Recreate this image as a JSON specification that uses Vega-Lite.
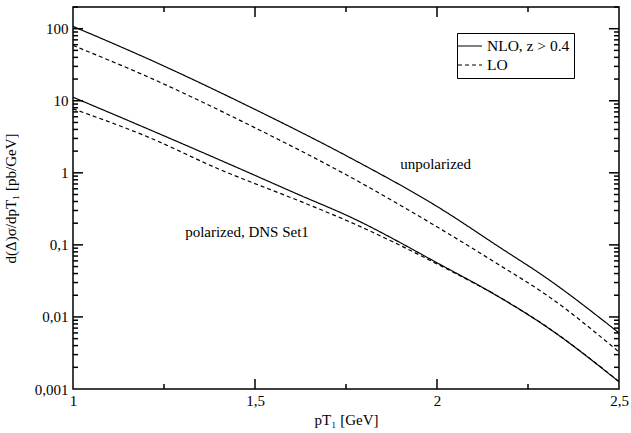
{
  "$schema": "https://vega.github.io/schema/vega-lite/v6.json",
  "width": 546,
  "height": 382,
  "autosize": "none",
  "padding": {"left": 73, "top": 7, "right": 12, "bottom": 44},
  "background": "white",
  "datasets": {
    "curves": [
      {"pT": 1.0, "v": 107.7, "curve": "uNLO", "set": "unpolarized", "order": "NLO, z > 0.4"},
      {"pT": 1.21, "v": 37.4, "curve": "uNLO", "set": "unpolarized", "order": "NLO, z > 0.4"},
      {"pT": 1.495, "v": 7.80, "curve": "uNLO", "set": "unpolarized", "order": "NLO, z > 0.4"},
      {"pT": 1.76, "v": 1.63, "curve": "uNLO", "set": "unpolarized", "order": "NLO, z > 0.4"},
      {"pT": 2.01, "v": 0.318, "curve": "uNLO", "set": "unpolarized", "order": "NLO, z > 0.4"},
      {"pT": 2.17, "v": 0.094, "curve": "uNLO", "set": "unpolarized", "order": "NLO, z > 0.4"},
      {"pT": 2.30, "v": 0.0349, "curve": "uNLO", "set": "unpolarized", "order": "NLO, z > 0.4"},
      {"pT": 2.5, "v": 0.0060, "curve": "uNLO", "set": "unpolarized", "order": "NLO, z > 0.4"},
      {"pT": 1.0, "v": 58.6, "curve": "uLO", "set": "unpolarized", "order": "LO"},
      {"pT": 1.21, "v": 21.0, "curve": "uLO", "set": "unpolarized", "order": "LO"},
      {"pT": 1.495, "v": 4.34, "curve": "uLO", "set": "unpolarized", "order": "LO"},
      {"pT": 1.76, "v": 0.885, "curve": "uLO", "set": "unpolarized", "order": "LO"},
      {"pT": 2.01, "v": 0.166, "curve": "uLO", "set": "unpolarized", "order": "LO"},
      {"pT": 2.17, "v": 0.053, "curve": "uLO", "set": "unpolarized", "order": "LO"},
      {"pT": 2.30, "v": 0.0203, "curve": "uLO", "set": "unpolarized", "order": "LO"},
      {"pT": 2.5, "v": 0.00327, "curve": "uLO", "set": "unpolarized", "order": "LO"},
      {"pT": 1.0, "v": 11.2, "curve": "pNLO", "set": "polarized", "order": "NLO, z > 0.4"},
      {"pT": 1.21, "v": 3.98, "curve": "pNLO", "set": "polarized", "order": "NLO, z > 0.4"},
      {"pT": 1.46, "v": 1.13, "curve": "pNLO", "set": "polarized", "order": "NLO, z > 0.4"},
      {"pT": 1.62, "v": 0.498, "curve": "pNLO", "set": "polarized", "order": "NLO, z > 0.4"},
      {"pT": 1.76, "v": 0.246, "curve": "pNLO", "set": "polarized", "order": "NLO, z > 0.4"},
      {"pT": 2.01, "v": 0.053, "curve": "pNLO", "set": "polarized", "order": "NLO, z > 0.4"},
      {"pT": 2.17, "v": 0.019, "curve": "pNLO", "set": "polarized", "order": "NLO, z > 0.4"},
      {"pT": 2.30, "v": 0.00735, "curve": "pNLO", "set": "polarized", "order": "NLO, z > 0.4"},
      {"pT": 2.5, "v": 0.00126, "curve": "pNLO", "set": "polarized", "order": "NLO, z > 0.4"},
      {"pT": 1.0, "v": 7.73, "curve": "pLO", "set": "polarized", "order": "LO"},
      {"pT": 1.21, "v": 3.08, "curve": "pLO", "set": "polarized", "order": "LO"},
      {"pT": 1.40, "v": 1.13, "curve": "pLO", "set": "polarized", "order": "LO"},
      {"pT": 1.62, "v": 0.41, "curve": "pLO", "set": "polarized", "order": "LO"},
      {"pT": 1.76, "v": 0.209, "curve": "pLO", "set": "polarized", "order": "LO"},
      {"pT": 2.01, "v": 0.0513, "curve": "pLO", "set": "polarized", "order": "LO"},
      {"pT": 2.17, "v": 0.0190, "curve": "pLO", "set": "polarized", "order": "LO"},
      {"pT": 2.30, "v": 0.0074, "curve": "pLO", "set": "polarized", "order": "LO"},
      {"pT": 2.5, "v": 0.00127, "curve": "pLO", "set": "polarized", "order": "LO"}
    ],
    "notes": [
      {"pT": 1.996, "v": 1.34, "label": "unpolarized"},
      {"pT": 1.478, "v": 0.152, "label": "polarized, DNS Set1"}
    ],
    "xticks": [
      {"tx": 1.25, "kind": "minor"}, {"tx": 1.5, "kind": "major"}, {"tx": 1.75, "kind": "minor"},
      {"tx": 2, "kind": "major"}, {"tx": 2.25, "kind": "minor"}
    ],
    "yticks": [
      {"ty": 0.002, "kind": "minor"}, {"ty": 0.003, "kind": "minor"}, {"ty": 0.004, "kind": "minor"}, {"ty": 0.005, "kind": "minor"}, {"ty": 0.006, "kind": "minor"}, {"ty": 0.007, "kind": "minor"}, {"ty": 0.008, "kind": "minor"}, {"ty": 0.009, "kind": "minor"},
      {"ty": 0.01, "kind": "major"},
      {"ty": 0.02, "kind": "minor"}, {"ty": 0.03, "kind": "minor"}, {"ty": 0.04, "kind": "minor"}, {"ty": 0.05, "kind": "minor"}, {"ty": 0.06, "kind": "minor"}, {"ty": 0.07, "kind": "minor"}, {"ty": 0.08, "kind": "minor"}, {"ty": 0.09, "kind": "minor"},
      {"ty": 0.1, "kind": "major"},
      {"ty": 0.2, "kind": "minor"}, {"ty": 0.3, "kind": "minor"}, {"ty": 0.4, "kind": "minor"}, {"ty": 0.5, "kind": "minor"}, {"ty": 0.6, "kind": "minor"}, {"ty": 0.7, "kind": "minor"}, {"ty": 0.8, "kind": "minor"}, {"ty": 0.9, "kind": "minor"},
      {"ty": 1, "kind": "major"},
      {"ty": 2, "kind": "minor"}, {"ty": 3, "kind": "minor"}, {"ty": 4, "kind": "minor"}, {"ty": 5, "kind": "minor"}, {"ty": 6, "kind": "minor"}, {"ty": 7, "kind": "minor"}, {"ty": 8, "kind": "minor"}, {"ty": 9, "kind": "minor"},
      {"ty": 10, "kind": "major"},
      {"ty": 20, "kind": "minor"}, {"ty": 30, "kind": "minor"}, {"ty": 40, "kind": "minor"}, {"ty": 50, "kind": "minor"}, {"ty": 60, "kind": "minor"}, {"ty": 70, "kind": "minor"}, {"ty": 80, "kind": "minor"}, {"ty": 90, "kind": "minor"},
      {"ty": 100, "kind": "major"},
      {"ty": 200, "kind": "minor"}
    ]
  },
  "config": {
    "font": "Liberation Serif",
    "view": {"stroke": "black", "strokeWidth": 1.5},
    "axis": {"labelFont": "Liberation Serif", "titleFont": "Liberation Serif", "labelFontSize": 15, "titleFontSize": 15, "titleFontWeight": "normal", "labelColor": "black", "titleColor": "black", "grid": false, "domain": false, "ticks": false},
    "legend": {"labelFont": "Liberation Serif"},
    "text": {"font": "Liberation Serif"}
  },
  "resolve": {"axis": {"x": "independent", "y": "independent"}},
  "layer": [
    {
      "data": {"name": "curves"},
      "transform": [{"filter": "datum.set == 'unpolarized'"}],
      "mark": {"type": "line", "interpolate": "monotone", "color": "black", "strokeWidth": 1.2, "clip": true},
      "encoding": {
        "x": {"field": "pT", "type": "quantitative",
          "scale": {"domain": [1, 2.5], "nice": false, "zero": false},
          "axis": {"orient": "bottom", "title": "pT₁ [GeV]", "titlePadding": 4,
            "values": [1, 1.5, 2, 2.5], "labelPadding": 4, "labelFlush": false,
            "labelExpr": "replace(format(datum.value, '~g'), '.', ',')"}},
        "y": {"field": "v", "type": "quantitative",
          "scale": {"type": "log", "domain": [0.001, 200], "nice": false},
          "axis": {"orient": "left", "title": "d(Δ)σ/dpT₁ [pb/GeV]", "titlePadding": 16,
            "values": [0.001, 0.01, 0.1, 1, 10, 100], "labelPadding": 5, "labelFlush": false,
            "labelExpr": "replace(format(datum.value, '~g'), '.', ',')"}},
        "detail": {"field": "curve"},
        "strokeDash": {"field": "order", "type": "nominal",
          "scale": {"domain": ["NLO, z > 0.4", "LO"], "range": [[1, 0], [4, 3]]},
          "legend": {"title": null, "orient": "none", "legendX": 384, "legendY": 26,
            "symbolType": "M-1.5,0H1.5", "symbolSize": 256, "symbolStrokeColor": "black", "symbolStrokeWidth": 1.2,
            "labelFont": "Liberation Serif", "labelFontSize": 15.5, "labelColor": "black",
            "strokeColor": "black", "fillColor": "white", "padding": 4, "rowPadding": 1, "labelOffset": 8, "offset": 0}}
      }
    },
    {
      "data": {"name": "curves"},
      "transform": [{"filter": "datum.set == 'polarized'"}],
      "mark": {"type": "line", "interpolate": "monotone", "color": "black", "strokeWidth": 1.2, "clip": true},
      "encoding": {
        "x": {"field": "pT", "type": "quantitative", "axis": null},
        "y": {"field": "v", "type": "quantitative", "axis": null},
        "detail": {"field": "curve"},
        "strokeDash": {"field": "order", "type": "nominal"}
      }
    },
    {
      "data": {"name": "notes"},
      "mark": {"type": "text", "font": "Liberation Serif", "fontSize": 15, "color": "black"},
      "encoding": {
        "x": {"field": "pT", "type": "quantitative", "axis": null},
        "y": {"field": "v", "type": "quantitative", "axis": null},
        "text": {"field": "label"}
      }
    },
    {
      "data": {"name": "xticks"},
      "transform": [{"filter": "datum.kind == 'major'"}],
      "mark": {"type": "rule", "color": "black", "strokeWidth": 1.5, "opacity": 1, "y2Offset": -10},
      "encoding": {
        "x": {"field": "tx", "type": "quantitative", "axis": null},
        "y": {"datum": 0.001, "type": "quantitative", "axis": null},
        "y2": {"datum": 0.001}
      }
    },
    {
      "data": {"name": "xticks"},
      "transform": [{"filter": "datum.kind == 'minor'"}],
      "mark": {"type": "rule", "color": "black", "strokeWidth": 1.5, "opacity": 1, "y2Offset": -5},
      "encoding": {
        "x": {"field": "tx", "type": "quantitative", "axis": null},
        "y": {"datum": 0.001, "type": "quantitative", "axis": null},
        "y2": {"datum": 0.001}
      }
    },
    {
      "data": {"name": "xticks"},
      "transform": [{"filter": "datum.kind == 'major'"}],
      "mark": {"type": "rule", "color": "black", "strokeWidth": 1.5, "opacity": 1, "y2Offset": 10},
      "encoding": {
        "x": {"field": "tx", "type": "quantitative", "axis": null},
        "y": {"datum": 200, "type": "quantitative", "axis": null},
        "y2": {"datum": 200}
      }
    },
    {
      "data": {"name": "xticks"},
      "transform": [{"filter": "datum.kind == 'minor'"}],
      "mark": {"type": "rule", "color": "black", "strokeWidth": 1.5, "opacity": 1, "y2Offset": 5},
      "encoding": {
        "x": {"field": "tx", "type": "quantitative", "axis": null},
        "y": {"datum": 200, "type": "quantitative", "axis": null},
        "y2": {"datum": 200}
      }
    },
    {
      "data": {"name": "yticks"},
      "transform": [{"filter": "datum.kind == 'major'"}],
      "mark": {"type": "rule", "color": "black", "strokeWidth": 1.5, "opacity": 1, "x2Offset": 10},
      "encoding": {
        "y": {"field": "ty", "type": "quantitative", "axis": null},
        "x": {"datum": 1, "type": "quantitative", "axis": null},
        "x2": {"datum": 1}
      }
    },
    {
      "data": {"name": "yticks"},
      "transform": [{"filter": "datum.kind == 'minor'"}],
      "mark": {"type": "rule", "color": "black", "strokeWidth": 1.5, "opacity": 1, "x2Offset": 5},
      "encoding": {
        "y": {"field": "ty", "type": "quantitative", "axis": null},
        "x": {"datum": 1, "type": "quantitative", "axis": null},
        "x2": {"datum": 1}
      }
    },
    {
      "data": {"name": "yticks"},
      "transform": [{"filter": "datum.kind == 'major'"}],
      "mark": {"type": "rule", "color": "black", "strokeWidth": 1.5, "opacity": 1, "x2Offset": -10},
      "encoding": {
        "y": {"field": "ty", "type": "quantitative", "axis": null},
        "x": {"datum": 2.5, "type": "quantitative", "axis": null},
        "x2": {"datum": 2.5}
      }
    },
    {
      "data": {"name": "yticks"},
      "transform": [{"filter": "datum.kind == 'minor'"}],
      "mark": {"type": "rule", "color": "black", "strokeWidth": 1.5, "opacity": 1, "x2Offset": -5},
      "encoding": {
        "y": {"field": "ty", "type": "quantitative", "axis": null},
        "x": {"datum": 2.5, "type": "quantitative", "axis": null},
        "x2": {"datum": 2.5}
      }
    }
  ]
}
